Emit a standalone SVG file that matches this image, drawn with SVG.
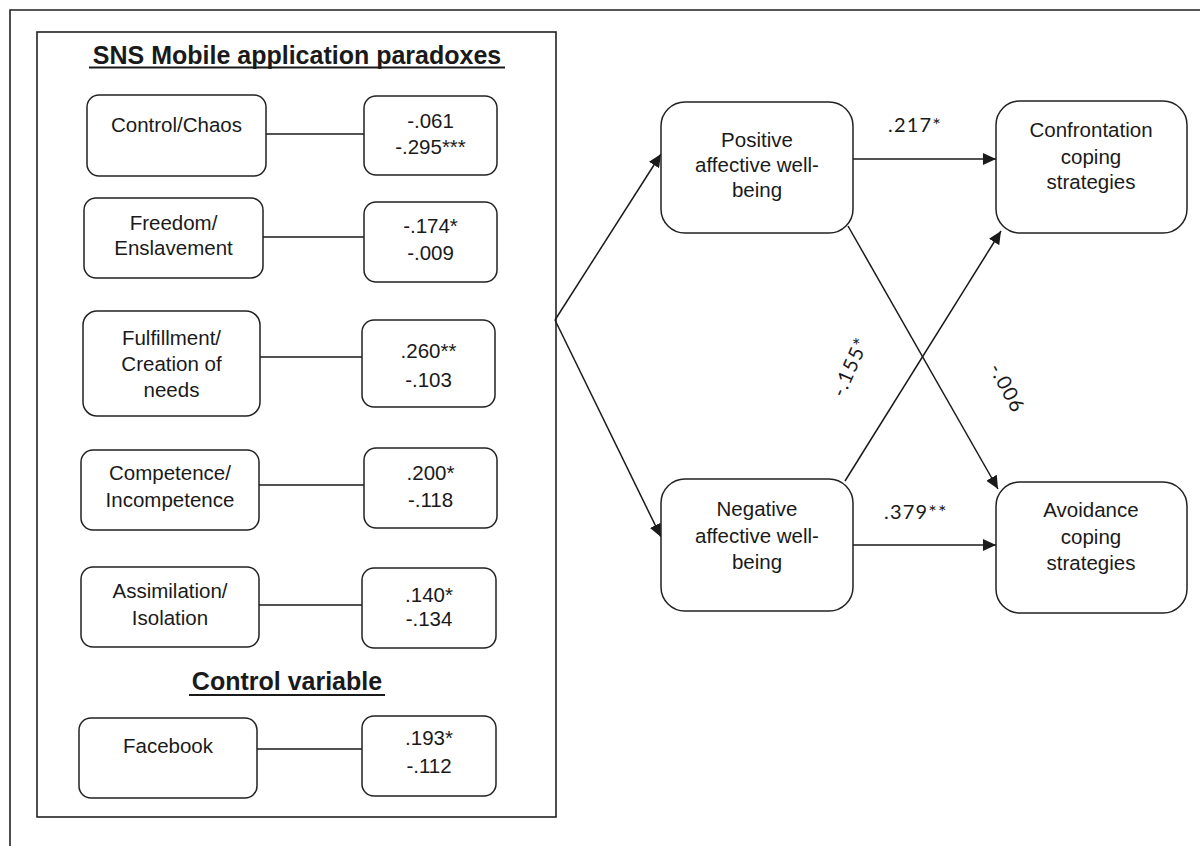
<svg xmlns="http://www.w3.org/2000/svg" width="1200" height="846" viewBox="0 0 1200 846">
<defs>
<marker id="ah" markerUnits="userSpaceOnUse" markerWidth="14" markerHeight="12" refX="13" refY="6" orient="auto">
<path d="M0,0 L13,6 L0,12 Z" fill="#1a1a1a"/>
</marker>
<style>
.frame{fill:none;stroke:#222;stroke-width:1.6}
.box{fill:#fff;stroke:#222;stroke-width:1.5}
.t{font-family:"Liberation Sans",Arial,sans-serif;font-size:20.5px;fill:#1a1a1a;text-anchor:middle}
.h{font-family:"Liberation Sans",Arial,sans-serif;font-size:25px;font-weight:bold;fill:#1a1a1a;text-anchor:middle}
.ul{stroke:#1a1a1a;stroke-width:2}
.c{fill:none;stroke:#1a1a1a;stroke-width:1.5}
.lbl{font-family:Lato,"Open Sans",sans-serif;font-size:20px;fill:#1a1a1a;letter-spacing:1.2px}
</style>
</defs>
<rect width="1200" height="846" fill="#fff"/>
<g id="outer-frame">
<path class="frame" d="M10,846 V10 H1200"/>
</g>
<g id="paradox-panel">
<rect class="frame" x="37" y="32" width="519" height="785"/>
<text class="h" x="297" y="64">SNS Mobile application paradoxes</text>
<line class="ul" x1="89" y1="67.5" x2="505" y2="67.5"/>
<text class="h" x="287" y="690">Control variable</text>
<line class="ul" x1="189" y1="695" x2="385" y2="695"/>
</g>
<g id="connectors">
<line class="c" x1="266" y1="134" x2="364" y2="134"/>
<line class="c" x1="263" y1="237" x2="364" y2="237"/>
<line class="c" x1="260" y1="357" x2="362" y2="357"/>
<line class="c" x1="259" y1="485" x2="364" y2="485"/>
<line class="c" x1="259" y1="605" x2="362" y2="605"/>
<line class="c" x1="257" y1="749" x2="362" y2="749"/>
<line class="c" x1="555" y1="320" x2="661" y2="154" marker-end="url(#ah)"/>
<line class="c" x1="555" y1="320" x2="661" y2="537" marker-end="url(#ah)"/>
<line class="c" x1="853" y1="159" x2="996" y2="159" marker-end="url(#ah)"/>
<line class="c" x1="853" y1="545" x2="996" y2="545" marker-end="url(#ah)"/>
<line class="c" x1="848" y1="226" x2="998" y2="489" marker-end="url(#ah)"/>
<line class="c" x1="845" y1="481" x2="1001" y2="231" marker-end="url(#ah)"/>
<text class="lbl" x="888" y="132">.217*</text>
<text class="lbl" x="884" y="519">.379**</text>
<text class="lbl" text-anchor="middle" transform="translate(850,367) rotate(-66)" y="7">-.155*</text>
<text class="lbl" text-anchor="middle" transform="translate(1007,388) rotate(62)" y="7">-.006</text>
</g>
<g id="n-control-chaos">
<rect class="box" x="87" y="95" width="179" height="81" rx="12"/>
<text class="t" x="176.5" y="132">Control/Chaos</text>
</g>
<g id="v-control-chaos">
<rect class="box" x="364" y="96" width="133" height="79" rx="12"/>
<text class="t" x="430.5" y="128">-.061</text>
<text class="t" x="430.5" y="154">-.295***</text>
</g>
<g id="n-freedom">
<rect class="box" x="84" y="198" width="179" height="80" rx="12"/>
<text class="t" x="173.5" y="230">Freedom/</text>
<text class="t" x="173.5" y="255">Enslavement</text>
</g>
<g id="v-freedom">
<rect class="box" x="364" y="202" width="133" height="80" rx="12"/>
<text class="t" x="430.5" y="233">-.174*</text>
<text class="t" x="430.5" y="260">-.009</text>
</g>
<g id="n-fulfillment">
<rect class="box" x="83" y="311" width="177" height="105" rx="14"/>
<text class="t" x="171.5" y="345">Fulfillment/</text>
<text class="t" x="171.5" y="371">Creation of</text>
<text class="t" x="171.5" y="397">needs</text>
</g>
<g id="v-fulfillment">
<rect class="box" x="362" y="320" width="133" height="87" rx="12"/>
<text class="t" x="428.5" y="358">.260**</text>
<text class="t" x="428.5" y="387">-.103</text>
</g>
<g id="n-competence">
<rect class="box" x="81" y="450" width="178" height="80" rx="12"/>
<text class="t" x="170" y="480">Competence/</text>
<text class="t" x="170" y="507">Incompetence</text>
</g>
<g id="v-competence">
<rect class="box" x="364" y="448" width="133" height="80" rx="12"/>
<text class="t" x="430.5" y="480">.200*</text>
<text class="t" x="430.5" y="507">-.118</text>
</g>
<g id="n-assimilation">
<rect class="box" x="81" y="567" width="178" height="80" rx="12"/>
<text class="t" x="170" y="598">Assimilation/</text>
<text class="t" x="170" y="625">Isolation</text>
</g>
<g id="v-assimilation">
<rect class="box" x="362" y="568" width="134" height="80" rx="12"/>
<text class="t" x="429" y="602">.140*</text>
<text class="t" x="429" y="626">-.134</text>
</g>
<g id="n-facebook">
<rect class="box" x="79" y="718" width="178" height="80" rx="12"/>
<text class="t" x="168" y="753">Facebook</text>
</g>
<g id="v-facebook">
<rect class="box" x="362" y="716" width="134" height="80" rx="12"/>
<text class="t" x="429" y="745">.193*</text>
<text class="t" x="429" y="773">-.112</text>
</g>
<g id="n-positive">
<rect class="box" x="661" y="102" width="192" height="131" rx="24"/>
<text class="t" x="757" y="147">Positive</text>
<text class="t" x="757" y="172">affective well-</text>
<text class="t" x="757" y="197">being</text>
</g>
<g id="n-negative">
<rect class="box" x="661" y="479" width="192" height="132" rx="24"/>
<text class="t" x="757" y="516">Negative</text>
<text class="t" x="757" y="543">affective well-</text>
<text class="t" x="757" y="569">being</text>
</g>
<g id="n-confrontation">
<rect class="box" x="996" y="101" width="191" height="132" rx="24"/>
<text class="t" x="1091" y="137">Confrontation</text>
<text class="t" x="1091" y="164">coping</text>
<text class="t" x="1091" y="189">strategies</text>
</g>
<g id="n-avoidance">
<rect class="box" x="996" y="482" width="191" height="131" rx="24"/>
<text class="t" x="1091" y="517">Avoidance</text>
<text class="t" x="1091" y="544">coping</text>
<text class="t" x="1091" y="570">strategies</text>
</g>
</svg>
